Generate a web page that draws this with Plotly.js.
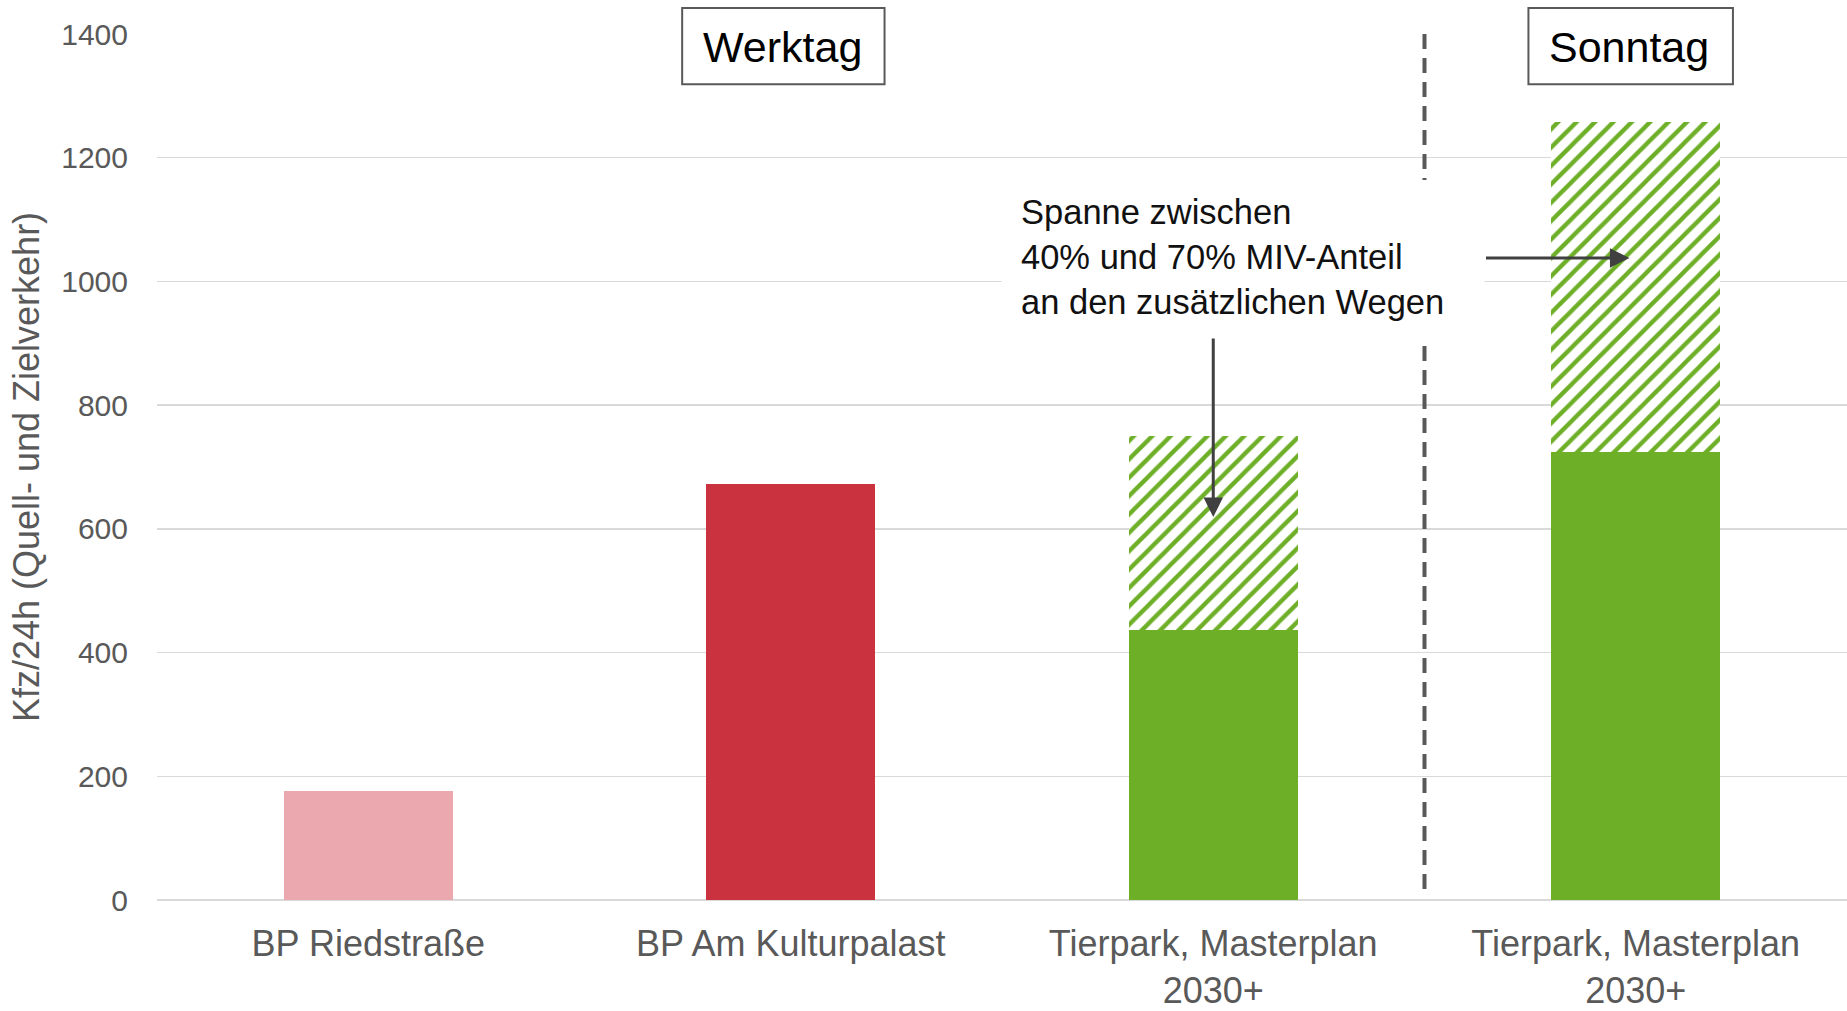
<!DOCTYPE html>
<html>
<head>
<meta charset="utf-8">
<script src="https://cdn.plot.ly/plotly-3.0.1.min.js"></script>
<style>
  html, body { margin: 0; padding: 0; background: #fff; }
  #chart { width: 1847px; height: 1011px; }
</style>
</head>
<body>
<div id="chart"></div>
<script>
// *********************************************************************************************
// DATA

const CATEGORIES = ["BP Riedstraße", "BP Am Kulturpalast", "Tierpark, Masterplan<br>2030+", "Tierpark, Masterplan<br>2030+"]
const BASE_VALUES = [176, 672, 437, 724]        // solid bars (40% MIV)
const RANGE_VALUES = [0, 0, 313, 534]           // hatched span up to 70% MIV
const BASE_COLORS = ['#EBA9AF', '#C9323E', '#6EAF28', '#6EAF28']
const Y_TICKS = [0, 200, 400, 600, 800, 1000, 1200, 1400]

const X_POS = CATEGORIES.map((c, i) => i)

const GREEN = '#6EAF28'
const GREY = '#595959'
const FONT = 'Liberation Sans, Arial, sans-serif'


// *********************************************************************************************
// TRACES

let baseTrace = {
    type: 'bar',
    x: X_POS,
    y: BASE_VALUES,
    marker: { color: BASE_COLORS, line: { width: 0 } },
    hoverinfo: 'y'
};

let rangeTrace = {
    type: 'bar',
    x: X_POS,
    y: RANGE_VALUES,
    marker: {
        color: 'white',
        line: { width: 0 },
        pattern: { shape: '/', fgcolor: GREEN, bgcolor: 'white', size: 13, solidity: 0.33 }
    },
    hoverinfo: 'y'
};

let data = [baseTrace, rangeTrace];


// *********************************************************************************************
// LAYOUT

// the two day labels sit in framed boxes above the plot area
const dayBox = (x0, x1) => ({
    type: 'rect', xref: 'x', yref: 'paper',
    x0: x0, x1: x1, y0: 0.942, y1: 1.030,
    fillcolor: 'white',
    line: { color: GREY, width: 2 }
})

let layout = {
    width: 1847,
    height: 1011,
    margin: { t: 34, r: 0, b: 111, l: 157 },
    paper_bgcolor: 'white',
    plot_bgcolor: 'white',
    barmode: 'stack',
    bargap: 0.6,
    showlegend: false,
    font: { family: FONT, color: GREY },

    xaxis: {
        range: [-0.5, 3.5],
        tickvals: X_POS,
        ticktext: CATEGORIES,
        ticks: '',
        showgrid: false,
        zeroline: false,
        showline: false,
        ticklabelstandoff: 19,
        tickfont: { size: 36, color: GREY }
    },
    yaxis: {
        range: [0, 1400],
        tickvals: Y_TICKS,
        ticks: '',
        showgrid: true,
        gridcolor: '#d9d9d9',
        gridwidth: 1.5,
        zeroline: true,
        zerolinecolor: '#d9d9d9',
        zerolinewidth: 1.5,
        showline: false,
        ticklabelstandoff: 28,
        tickfont: { size: 30, color: GREY },
        title: { text: 'Kfz/24h (Quell- und Zielverkehr)', standoff: 10, font: { size: 36, color: GREY } }
    },

    shapes: [
        {
            type: 'line', xref: 'x', yref: 'y',
            x0: 2.5, x1: 2.5, y0: 1400, y1: 10,
            line: { color: GREY, width: 4, dash: '15px,9px' }
        },
        // white backing behind the explanatory note (hides grid and dashed line)
        {
            type: 'rect', xref: 'x', yref: 'y',
            x0: 1.499, x1: 2.642, y0: 905, y1: 1164,
            fillcolor: 'white', line: { width: 0 }
        },
        dayBox(0.743, 1.222),
        dayBox(2.746, 3.230)
    ],

    annotations: [
        {
            x: 0.98, y: 0.985, xref: 'x', yref: 'paper', yanchor: 'middle',
            text: 'Werktag', showarrow: false,
            font: { size: 43, color: '#000' }
        },
        {
            x: 2.983, y: 0.985, xref: 'x', yref: 'paper', yanchor: 'middle',
            text: 'Sonntag', showarrow: false,
            font: { size: 43, color: '#000' }
        },
        {
            x: 1.505, y: 1170, xref: 'x', yref: 'y',
            xanchor: 'left', yanchor: 'top', align: 'left',
            text: 'Spanne zwischen<br>40% und 70% MIV-Anteil<br>an den zusätzlichen Wegen',
            showarrow: false,
            font: { size: 34.5, color: '#111' },
            borderpad: 16
        },
        {
            // arrow down into the weekday span
            x: 2, y: 619, xref: 'x', yref: 'y',
            ax: 2, ay: 910, axref: 'x', ayref: 'y',
            text: '', showarrow: true,
            arrowhead: 2, arrowsize: 1.3, arrowwidth: 3, arrowcolor: '#404040'
        },
        {
            // arrow right into the Sunday span
            x: 2.985, y: 1038, xref: 'x', yref: 'y',
            ax: 2.642, ay: 1038, axref: 'x', ayref: 'y',
            text: '', showarrow: true,
            arrowhead: 2, arrowsize: 1.3, arrowwidth: 3, arrowcolor: '#404040'
        }
    ]
}


// *********************************************************************************************
// CONFIG

const config = {
    displaylogo: false,
    displayModeBar: false,
    staticPlot: true
}

Plotly.newPlot('chart', data, layout, config);
</script>
</body>
</html>
